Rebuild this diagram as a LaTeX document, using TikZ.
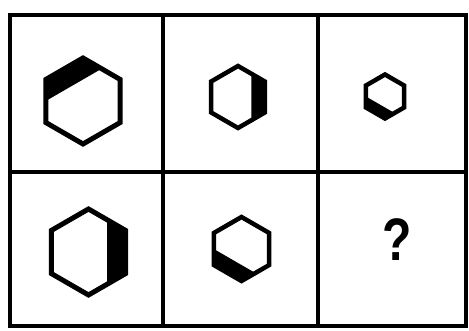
\documentclass[tikz,border=0pt]{standalone}
\usepackage{fontspec}
\setmainfont{Liberation Sans}
\begin{document}
\begin{tikzpicture}[x=1pt,y=-1pt,
  gridline/.style={line width=4.5pt,line cap=rect},
  hexline/.style={line width=#1,line join=miter},
  qmark/.style={font=\bfseries\fontsize{60}{60}\selectfont,inner sep=0pt,xscale=0.8,transform shape}]
\useasboundingbox (0,0) rectangle (469,331);
\fill[white] (0,0) rectangle (469,331);
\newcommand\hexfig[5]{%
  \begin{scope}[shift={(#1,#2)}]
    \fill (#4:{#3*0.866}) -- ({#4+30}:#3) -- ({#4+90}:#3) -- ({#4+120}:{#3*0.866}) -- cycle;
    \draw[hexline=#5] (90:#3) -- (30:#3) -- (-30:#3) -- (-90:#3) -- (-150:#3) -- (150:#3) -- cycle;
  \end{scope}}
% grid
\draw[gridline] (10,15) rectangle (466,326);
\draw[gridline] (163,15) -- (163,326);
\draw[gridline] (318,15) -- (318,326);
\draw[gridline] (10,172) -- (466,172);
% figures
\hexfig{83}{101}{43}{-180}{5pt}
\hexfig{238}{97}{31}{-60}{4.5pt}
\hexfig{385}{96.5}{22}{60}{4.5pt}
\hexfig{88.5}{252}{43}{-60}{5pt}
\hexfig{241.5}{249}{32}{60}{4.5pt}
\node[qmark] (q) at (397,240) {?};
\end{tikzpicture}
\end{document}
